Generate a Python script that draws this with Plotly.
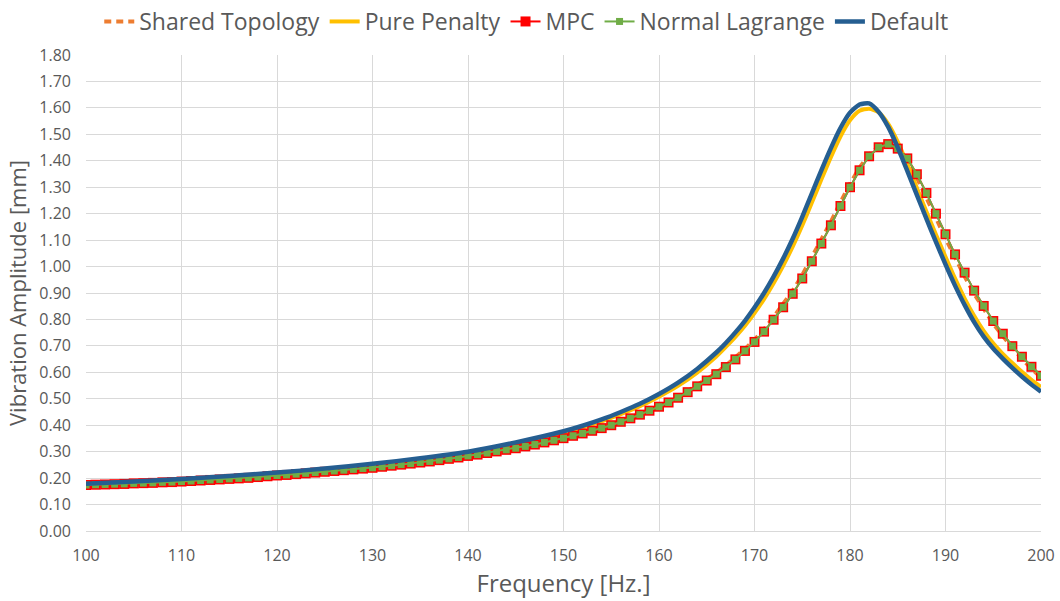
import plotly.graph_objects as go

# ---------------- data ----------------
freq = list(range(100, 201))

mpc = [0.174, 0.175, 0.176, 0.177, 0.178, 0.180, 0.181, 0.182, 0.184, 0.185,
       0.187, 0.189, 0.191, 0.193, 0.195, 0.197, 0.199, 0.201, 0.204, 0.207,
       0.210, 0.212, 0.215, 0.218, 0.221, 0.224, 0.227, 0.230, 0.233, 0.236,
       0.239, 0.243, 0.247, 0.251, 0.255, 0.259, 0.263, 0.268, 0.273, 0.278,
       0.284, 0.289, 0.295, 0.301, 0.307, 0.313, 0.320, 0.327, 0.335, 0.343,
       0.351, 0.360, 0.369, 0.379, 0.389, 0.400, 0.413, 0.426, 0.440, 0.455,
       0.470, 0.486, 0.504, 0.525, 0.547, 0.569, 0.593, 0.620, 0.649, 0.681,
       0.715, 0.754, 0.799, 0.846, 0.897, 0.955, 1.020, 1.087, 1.156, 1.229,
       1.300, 1.364, 1.417, 1.451, 1.463, 1.446, 1.409, 1.349, 1.278, 1.200,
       1.122, 1.046, 0.977, 0.909, 0.851, 0.794, 0.746, 0.699, 0.659, 0.621,
       0.587]

normal_lagrange = [0.174, 0.175, 0.176, 0.177, 0.178, 0.180, 0.181, 0.182, 0.184, 0.185,
                   0.187, 0.189, 0.191, 0.193, 0.195, 0.197, 0.199, 0.201, 0.204, 0.207,
                   0.210, 0.212, 0.215, 0.218, 0.221, 0.224, 0.227, 0.230, 0.233, 0.236,
                   0.239, 0.243, 0.247, 0.251, 0.255, 0.259, 0.263, 0.268, 0.273, 0.278,
                   0.284, 0.289, 0.295, 0.301, 0.307, 0.313, 0.320, 0.327, 0.335, 0.343,
                   0.351, 0.360, 0.369, 0.379, 0.389, 0.400, 0.413, 0.426, 0.440, 0.455,
                   0.470, 0.486, 0.504, 0.525, 0.547, 0.569, 0.593, 0.620, 0.649, 0.681,
                   0.715, 0.754, 0.799, 0.846, 0.897, 0.955, 1.020, 1.087, 1.156, 1.229,
                   1.300, 1.364, 1.417, 1.451, 1.463, 1.446, 1.409, 1.349, 1.278, 1.200,
                   1.122, 1.046, 0.977, 0.909, 0.851, 0.794, 0.746, 0.699, 0.659, 0.621,
                   0.587]

shared_topology = [0.175, 0.176, 0.177, 0.178, 0.179, 0.181, 0.182, 0.183, 0.185, 0.186,
                   0.188, 0.190, 0.192, 0.194, 0.196, 0.198, 0.200, 0.202, 0.205, 0.208,
                   0.211, 0.213, 0.216, 0.219, 0.222, 0.225, 0.228, 0.231, 0.234, 0.237,
                   0.240, 0.244, 0.248, 0.252, 0.256, 0.260, 0.264, 0.269, 0.274, 0.279,
                   0.285, 0.290, 0.296, 0.302, 0.308, 0.315, 0.322, 0.329, 0.337, 0.345,
                   0.353, 0.362, 0.371, 0.381, 0.391, 0.402, 0.415, 0.428, 0.442, 0.457,
                   0.473, 0.489, 0.507, 0.529, 0.551, 0.574, 0.598, 0.626, 0.655, 0.688,
                   0.723, 0.763, 0.809, 0.857, 0.909, 0.968, 1.033, 1.101, 1.170, 1.243,
                   1.313, 1.374, 1.424, 1.454, 1.463, 1.441, 1.399, 1.336, 1.263, 1.184,
                   1.106, 1.031, 0.963, 0.897, 0.840, 0.784, 0.737, 0.691, 0.651, 0.614,
                   0.580]

curve_freq = [100, 105, 110, 115, 120, 125, 130, 135, 140, 145, 150, 152, 154, 156,
              158, 160, 162, 164, 166, 167, 168, 169, 170, 171, 172, 173, 174, 175,
              176, 177, 178, 179, 180, 181, 182, 183, 184, 185, 186, 187, 188, 189,
              190, 191, 192, 193, 194, 195, 196, 197, 198, 199, 200]

default = [0.179, 0.187, 0.197, 0.208, 0.221, 0.236, 0.254, 0.275, 0.300, 0.335,
           0.377, 0.398, 0.422, 0.450, 0.481, 0.518, 0.561, 0.613, 0.675, 0.711,
           0.751, 0.795, 0.845, 0.900, 0.962, 1.030, 1.105, 1.188, 1.276, 1.364,
           1.448, 1.524, 1.582, 1.613, 1.617, 1.585, 1.528, 1.450, 1.362, 1.271,
           1.181, 1.093, 1.008, 0.928, 0.855, 0.790, 0.735, 0.690, 0.652, 0.617,
           0.584, 0.554, 0.527]

pure_penalty = [0.177, 0.185, 0.195, 0.206, 0.219, 0.234, 0.251, 0.272, 0.296, 0.330,
                0.371, 0.392, 0.415, 0.442, 0.472, 0.508, 0.549, 0.599, 0.660, 0.696,
                0.734, 0.776, 0.824, 0.877, 0.937, 1.003, 1.075, 1.155, 1.241, 1.329,
                1.414, 1.492, 1.553, 1.589, 1.597, 1.583, 1.540, 1.472, 1.388, 1.298,
                1.208, 1.121, 1.037, 0.955, 0.880, 0.814, 0.757, 0.710, 0.670, 0.635,
                0.602, 0.572, 0.545]

x_ticks = list(range(100, 201, 10))
y_ticks = [i / 10 for i in range(0, 19)]
y_tick_text = ["%.2f" % v for v in y_ticks]

# ---------------- figure ----------------
TXT = "#595959"
GRID = "#D9D9D9"
FONT = "Open Sans, Lato, sans-serif"

fig = go.Figure()

fig.add_trace(go.Scatter(
    x=freq, y=shared_topology, name="Shared Topology", mode="lines",
    line=dict(color="#ED7D31", width=4, dash="7px,5px"),
))
fig.add_trace(go.Scatter(
    x=curve_freq, y=pure_penalty, name="Pure Penalty", mode="lines",
    line=dict(color="#FFC000", width=4, shape="spline", smoothing=0.6),
))
fig.add_trace(go.Scatter(
    x=freq, y=mpc, name="MPC", mode="lines+markers",
    line=dict(color="#FF0000", width=2),
    marker=dict(symbol="square", size=10, color="#FF0000",
                line=dict(color="#FF0000", width=0)),
))
fig.add_trace(go.Scatter(
    x=freq, y=normal_lagrange, name="Normal Lagrange", mode="lines+markers",
    line=dict(color="#70AD47", width=2),
    marker=dict(symbol="square", size=7, color="#70AD47",
                line=dict(color="#70AD47", width=0)),
))
fig.add_trace(go.Scatter(
    x=curve_freq, y=default, name="Default", mode="lines",
    line=dict(color="#255E91", width=4.5, shape="spline", smoothing=0.6),
))

fig.update_layout(
    width=1060, height=601,
    margin=dict(l=86, r=19, t=55, b=70, autoexpand=False),
    plot_bgcolor="white", paper_bgcolor="white",
    font=dict(family=FONT, color=TXT),
    legend=dict(
        orientation="h", x=0.461, xanchor="center",
        yref="container", y=1.0, yanchor="top",
        font=dict(size=23, color=TXT, family=FONT),
        itemwidth=30, tracegroupgap=0,
        bgcolor="rgba(0,0,0,0)",
    ),
    xaxis=dict(
        range=[100, 200], tickmode="array", tickvals=x_ticks,
        showgrid=True, gridcolor=GRID, gridwidth=1,
        showline=True, linecolor=GRID, linewidth=1,
        zeroline=False, ticks="", ticklabelstandoff=10,
        tickfont=dict(size=16, color=TXT, family=FONT),
        title=dict(text="Frequency [Hz.]", font=dict(size=24, color=TXT, family=FONT),
                   standoff=4),
    ),
    yaxis=dict(
        range=[0, 1.8], tickmode="array", tickvals=y_ticks, ticktext=y_tick_text,
        showgrid=True, gridcolor=GRID, gridwidth=1,
        showline=False, zeroline=False, ticks="", ticklabelstandoff=14,
        tickfont=dict(size=16, color=TXT, family=FONT),
        title=dict(text="Vibration Amplitude [mm]", font=dict(size=22, color=TXT, family=FONT),
                   standoff=6),
    ),
)

fig.write_html("out.html")
